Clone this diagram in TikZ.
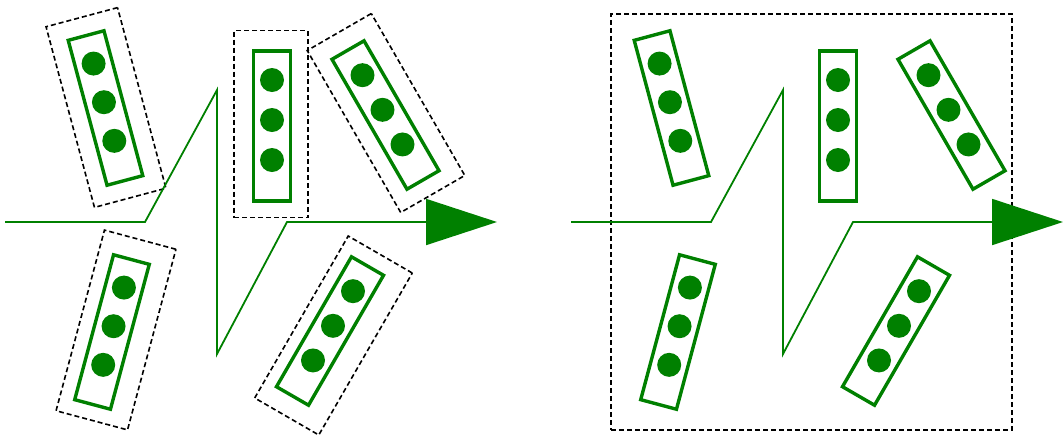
\documentclass[tikz,border=0pt]{standalone}
\usetikzlibrary{arrows.meta}
\definecolor{gr}{RGB}{0,128,0}
\tikzset{
 grect/.style={draw=gr, line width=3.4pt, minimum width=37pt, minimum height=150pt, inner sep=0pt, outer sep=0pt, transform shape},
 gdot/.style={circle, fill=gr, minimum size=24pt, inner sep=0pt},
 dline/.style={draw=black, line width=1.6pt, dash pattern=on 5pt off 3pt},
 dbox/.style={dline, minimum width=74pt, minimum height=187pt, inner sep=0pt, transform shape},
 zig/.style={draw=gr, line width=1.8pt, -{Triangle[length=71pt,width=46pt]}},
}
\begin{document}
\begin{tikzpicture}[x=1pt,y=1pt]
\useasboundingbox (0,0) rectangle (1063,-440);
% rectangles with dots, both panels
\foreach \p/\dx in {l/0, r/566} {
  \foreach \i/\x/\y/\a in {1/105.5/108/15, 2/272/126/0, 3/385.5/115/30, 4/112/332/-15, 5/330/331/-30} {
    \begin{scope}[shift={(\x+\dx,-\y)}, rotate=\a]
      \node[grect] (\p\i) at (0,0) {};
      \node[gdot] (\p\i-a) at (0,46) {};
      \node[gdot] (\p\i-b) at (0,6) {};
      \node[gdot] (\p\i-c) at (0,-34) {};
    \end{scope}
  }
}
% dashed boxes, left panel
\foreach \i/\x/\y/\a in {1/106/107.5/15, 2/271/124/0, 3/386/113/30, 4/116/330/-15, 5/333.5/335.5/-30} {
  \begin{scope}[shift={(\x,-\y)}, rotate=\a]
    \node[dbox] (d\i) at (0,0) {};
  \end{scope}
}
% big dashed frame, right panel
\node[dline, minimum width=401pt, minimum height=416pt, inner sep=0pt] (frame) at (811.5,-222) {};
% zigzag arrows
\foreach \p/\dx in {l/0, r/566} {
  \coordinate (\p s) at (5+\dx,-222);
  \coordinate (\p k1) at (145+\dx,-222);
  \coordinate (\p top) at (217+\dx,-90);
  \coordinate (\p bot) at (217+\dx,-354);
  \coordinate (\p k2) at (287+\dx,-222);
  \coordinate (\p tip) at (497+\dx,-222);
  \draw[zig] (\p s) -- (\p k1) -- (\p top) -- (\p bot) -- (\p k2) -- (\p tip);
}
\end{tikzpicture}
\end{document}
